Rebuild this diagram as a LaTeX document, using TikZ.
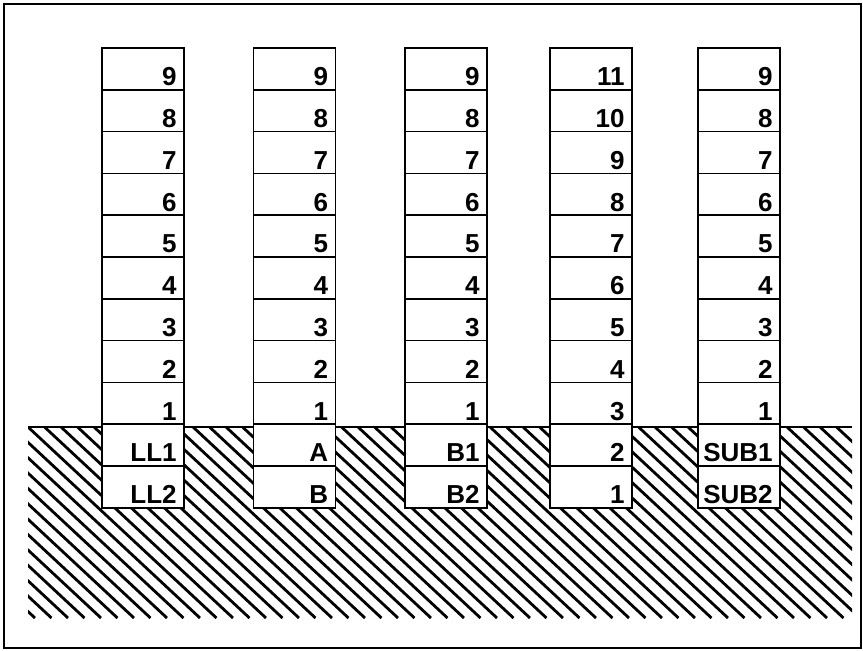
\documentclass[tikz,border=0pt]{standalone}
\usepackage{fontspec}
\setmainfont{Liberation Sans}

\tikzset{
  cell/.style={draw, line width=1.6pt, fill=white, minimum width=82pt,
    minimum height=41.8pt, inner sep=0pt},
  lbl/.style={anchor=base east, inner sep=0pt,
    font=\fontsize{26}{29}\selectfont\bfseries},
  hatchline/.style={line width=2.8pt}
}

\begin{document}
\begin{tikzpicture}[x=1pt, y=-1pt]

  % Parameters
  \def\rowh{41.8}       % height of one cell
  \def\ytop{48}         % top of the stacks
  \def\yground{427}     % surface of the hatched ground

  \useasboundingbox (0,0) rectangle (863,651);
  \draw[line width=2pt] (4,4) rectangle (861,648);

  % Hatched ground
  \begin{scope}
    \clip (28,\yground) rectangle (852,618);
    \foreach \k in {-13,...,51}
      \draw[hatchline] ({28+\k*16.5},\yground) -- ++(205,191);
  \end{scope}
  \draw[line width=1.6pt] (28,\yground) -- (852,\yground);

  % Stacks of cells
  \foreach \cx/\lst [count=\c] in {143/{9,8,7,6,5,4,3,2,1,LL1,LL2},
      294.5/{9,8,7,6,5,4,3,2,1,A,B},
      446/{9,8,7,6,5,4,3,2,1,B1,B2},
      591/{11,10,9,8,7,6,5,4,3,2,1},
      739/{9,8,7,6,5,4,3,2,1,SUB1,SUB2}}
  {
    \foreach \t [count=\r] in \lst {
      \node[cell] (c\c-\r) at (\cx,{\ytop+(\r-0.5)*\rowh}) {};
      \node[lbl] (t\c-\r) at ([xshift=-8pt,yshift=5pt]c\c-\r.south east) {\t};
    }
  }

\end{tikzpicture}
\end{document}
